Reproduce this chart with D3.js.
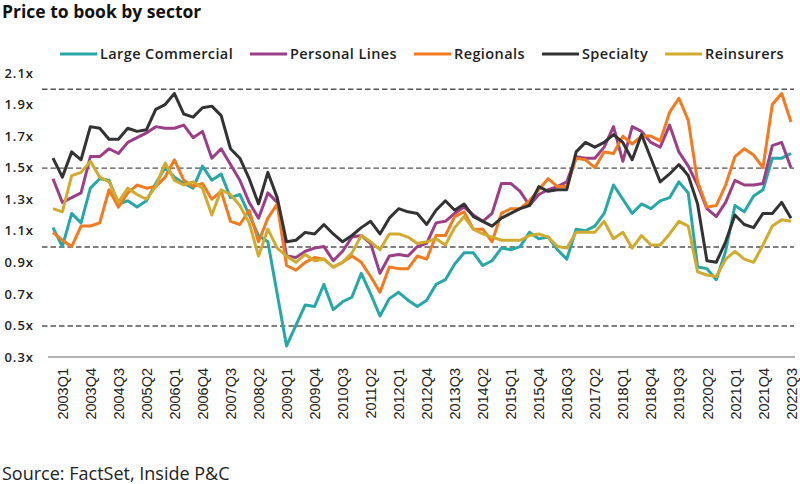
<!DOCTYPE html>
<html lang="en">
<head>
<meta charset="utf-8">
<script src="https://cdn.jsdelivr.net/npm/d3@7"></script>
<style>
    body { margin: 0; background: #fff; }
    svg { font-family: "Open Sans", sans-serif; }
</style>
</head>
<body>
<script>
    // quarters 2002Q4 .. 2022Q3
    const quarters = [];
    for (let y = 2002; y <= 2022; y++) {
        for (let q = 1; q <= 4; q++) {
            if ((y === 2002 && q < 4) || (y === 2022 && q > 3)) continue;
            quarters.push(y + "Q" + q);
        }
    }

    const tickLabels = ["2003Q1", "2003Q4", "2004Q3", "2005Q2", "2006Q1", "2006Q4", "2007Q3",
        "2008Q2", "2009Q1", "2009Q4", "2010Q3", "2011Q2", "2012Q1", "2012Q4", "2013Q3",
        "2014Q2", "2015Q1", "2015Q4", "2016Q3", "2017Q2", "2018Q1", "2018Q4", "2019Q3",
        "2020Q2", "2021Q1", "2021Q4", "2022Q3"];

    const yTicks = [0.3, 0.5, 0.7, 0.9, 1.1, 1.3, 1.5, 1.7, 1.9, 2.1];
    const gridValues = [0.5, 1.0, 1.5, 2.0];

    const largeCommercial = [
        1.12, 1.00, 1.21, 1.15, 1.37, 1.43, 1.42, 1.27, 1.29, 1.25,
        1.29, 1.40, 1.50, 1.44, 1.40, 1.37, 1.51, 1.42, 1.46, 1.31,
        1.33, 1.20, 1.07, 1.03, 0.70, 0.37, 0.50, 0.63, 0.62, 0.76,
        0.60, 0.65, 0.68, 0.83, 0.70, 0.56, 0.67, 0.71, 0.66, 0.62,
        0.66, 0.76, 0.79, 0.89, 0.96, 0.96, 0.88, 0.91, 0.99, 0.98,
        1.00, 1.09, 1.05, 1.06, 0.98, 0.92, 1.11, 1.10, 1.13, 1.21,
        1.39, 1.30, 1.21, 1.27, 1.24, 1.29, 1.31, 1.41, 1.34, 0.87,
        0.86, 0.79, 0.97, 1.26, 1.22, 1.32, 1.36, 1.56, 1.56, 1.59];

    const personalLines = [
        1.43, 1.28, 1.31, 1.34, 1.57, 1.57, 1.62, 1.59, 1.66, 1.69,
        1.72, 1.76, 1.75, 1.75, 1.77, 1.69, 1.73, 1.56, 1.62, 1.52,
        1.42, 1.28, 1.18, 1.34, 1.28, 0.94, 0.93, 0.97, 0.99, 1.00,
        0.91, 0.97, 1.06, 1.07, 1.02, 0.83, 0.94, 0.95, 0.94, 1.00,
        1.02, 1.15, 1.16, 1.21, 1.25, 1.20, 1.16, 1.21, 1.40, 1.40,
        1.35, 1.26, 1.33, 1.36, 1.38, 1.41, 1.57, 1.56, 1.56, 1.63,
        1.76, 1.54, 1.76, 1.73, 1.66, 1.63, 1.77, 1.60, 1.51, 1.39,
        1.24, 1.19, 1.28, 1.42, 1.39, 1.39, 1.40, 1.64, 1.66, 1.50];

    const regionals = [
        1.09, 1.04, 1.00, 1.13, 1.13, 1.15, 1.36, 1.25, 1.34, 1.39,
        1.37, 1.38, 1.44, 1.55, 1.42, 1.38, 1.40, 1.30, 1.35, 1.16,
        1.14, 1.23, 1.03, 1.18, 1.27, 0.88, 0.85, 0.90, 0.93, 0.92,
        0.87, 0.90, 0.94, 0.90, 0.81, 0.71, 0.87, 0.86, 0.86, 0.94,
        0.92, 1.07, 1.07, 1.19, 1.22, 1.11, 1.11, 1.03, 1.21, 1.24,
        1.24, 1.29, 1.36, 1.43, 1.38, 1.38, 1.56, 1.55, 1.50, 1.60,
        1.59, 1.70, 1.65, 1.70, 1.70, 1.67, 1.85, 1.94, 1.80, 1.41,
        1.25, 1.26, 1.39, 1.57, 1.62, 1.58, 1.50, 1.90, 1.97, 1.79];

    const specialty = [
        1.56, 1.44, 1.60, 1.55, 1.76, 1.75, 1.68, 1.68, 1.75, 1.73,
        1.74, 1.87, 1.90, 1.97, 1.84, 1.82, 1.88, 1.89, 1.83, 1.62,
        1.56, 1.43, 1.27, 1.47, 1.31, 1.03, 1.04, 1.09, 1.08, 1.14,
        1.08, 1.03, 1.07, 1.12, 1.16, 1.08, 1.18, 1.24, 1.22, 1.21,
        1.14, 1.23, 1.29, 1.23, 1.27, 1.19, 1.16, 1.13, 1.18, 1.21,
        1.24, 1.26, 1.38, 1.35, 1.36, 1.36, 1.60, 1.66, 1.63, 1.66,
        1.71, 1.66, 1.55, 1.71, 1.56, 1.41, 1.46, 1.52, 1.45, 1.27,
        0.91, 0.90, 1.03, 1.20, 1.14, 1.12, 1.21, 1.21, 1.28, 1.18];

    const reinsurers = [
        1.24, 1.22, 1.45, 1.47, 1.54, 1.44, 1.41, 1.28, 1.37, 1.33,
        1.30, 1.38, 1.53, 1.42, 1.39, 1.41, 1.37, 1.20, 1.36, 1.33,
        1.26, 1.15, 0.94, 1.11, 0.99, 0.94, 0.90, 0.95, 0.91, 0.92,
        0.87, 0.90, 0.96, 1.07, 1.03, 0.98, 1.08, 1.08, 1.06, 1.02,
        1.03, 1.05, 1.01, 1.12, 1.19, 1.11, 1.08, 1.06, 1.04, 1.04,
        1.04, 1.07, 1.08, 1.06, 1.00, 0.99, 1.09, 1.09, 1.09, 1.16,
        1.05, 1.09, 0.99, 1.07, 1.01, 1.01, 1.08, 1.16, 1.13, 0.84,
        0.82, 0.81, 0.92, 0.97, 0.92, 0.90, 1.01, 1.13, 1.17, 1.16];

    const seriesNames = ["Large Commercial", "Personal Lines", "Regionals", "Specialty", "Reinsurers"];
    const seriesValues = [largeCommercial, personalLines, regionals, specialty, reinsurers];
    const seriesColors = ["#27a8a7", "#9c3f87", "#f47a20", "#333333", "#d2ab2e"];
    const legendX = [60, 250, 414, 542, 665];

    const w = 800, h = 484;
    const svg = d3.select("body").append("svg")
        .attr("width", w)
        .attr("height", h);

    const xScale = d3.scalePoint().domain(quarters).range([53, 791]);
    const yScale = d3.scaleLinear().domain([0.3, 2.1]).range([357, 73]);

    // title
    svg.append("text")
        .attr("x", 2).attr("y", 18)
        .attr("font-size", "17.5px")
        .attr("font-weight", "bold")
        .attr("fill", "#111")
        .text("Price to book by sector");

    // dashed grid
    svg.append("g")
        .attr("transform", "translate(42,0)")
        .call(d3.axisLeft(yScale).tickValues(gridValues).tickSize(-(794 - 42)).tickFormat(""))
        .call(g => g.select(".domain").remove())
        .selectAll("line")
        .attr("stroke", "#555")
        .attr("stroke-width", 1.4)
        .attr("stroke-dasharray", "5.5,3");

    // y labels
    svg.append("g")
        .attr("transform", "translate(34,0)")
        .call(d3.axisLeft(yScale).tickValues(yTicks).tickSize(0).tickPadding(0)
            .tickFormat(d => d.toFixed(1) + "x"))
        .call(g => g.select(".domain").remove())
        .selectAll("text")
        .attr("font-family", "'Open Sans', sans-serif")
        .attr("font-size", "13px")
        .attr("font-weight", 600)
        .attr("letter-spacing", "1px")
        .attr("fill", "#222");

    // x axis
    const xAxis = svg.append("g")
        .attr("transform", "translate(0,357)")
        .call(d3.axisBottom(xScale).tickValues(tickLabels).tickSize(0).tickPadding(0));
    xAxis.select(".domain").remove();
    xAxis.selectAll("text")
        .attr("font-family", "'Liberation Sans', Arial, sans-serif")
        .attr("font-size", "14.5px")
        .attr("fill", "#222")
        .attr("text-anchor", "end")
        .attr("dy", "0.35em")
        .attr("transform", "translate(0,11) rotate(-90)")
        .attr("y", 0)
        .attr("x", 0);

    svg.append("line")
        .attr("x1", xScale.range()[0] - 5).attr("x2", xScale.range()[1] + 4)
        .attr("y1", yScale(0.3)).attr("y2", yScale(0.3))
        .attr("stroke", "#999")
        .attr("stroke-width", 1.3);

    // lines
    const line = d3.line()
        .x((d, i) => xScale(quarters[i]))
        .y(d => yScale(d));

    seriesValues.forEach((vals, k) => {
        svg.append("path")
            .datum(vals)
            .attr("d", line)
            .attr("fill", "none")
            .attr("stroke", seriesColors[k])
            .attr("stroke-width", 3)
            .attr("stroke-linejoin", "round");
    });

    // legend
    const legend = svg.append("g");
    seriesNames.forEach((name, k) => {
        const lx = legendX[k];
        legend.append("line")
            .attr("x1", lx).attr("x2", lx + 37)
            .attr("y1", 54).attr("y2", 54)
            .attr("stroke", seriesColors[k])
            .attr("stroke-width", 3);
        legend.append("text")
            .attr("x", lx + 40).attr("y", 59)
            .attr("font-size", "14.5px")
            .attr("font-weight", 600)
            .attr("letter-spacing", "0.4px")
            .attr("fill", "#222")
            .text(name);
    });

    // source
    svg.append("text")
        .attr("x", 2).attr("y", 480)
        .attr("font-size", "18px")
        .attr("fill", "#222")
        .text("Source: FactSet, Inside P&C");
</script>
</body>
</html>
